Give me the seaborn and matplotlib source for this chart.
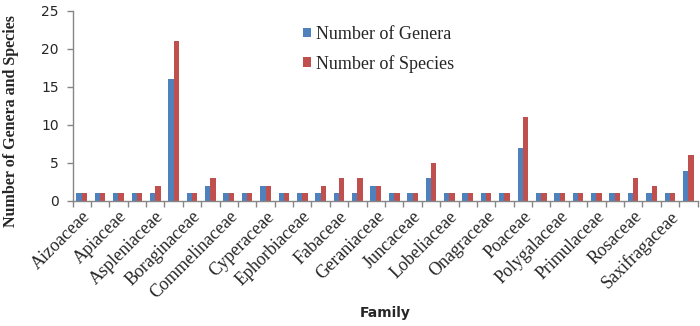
import matplotlib
matplotlib.use("Agg")
import matplotlib.pyplot as plt
import seaborn as sns
import pandas as pd
from matplotlib.patches import Patch

families = ["Aizoaceae", "Amaranthaceae", "Apiaceae", "Apocynaceae", "Aspleniaceae",
            "Asteraceae", "Boraginaceae", "Brassicaceae", "Commelinaceae", "Crassulaceae",
            "Cyperaceae", "Dipsacaceae", "Ephorbiaceae", "Ericaceae", "Fabaceae",
            "Gentianaceae", "Geraniaceae", "Hypericaceae", "Juncaceae", "Lamiaceae",
            "Lobeliaceae", "Malvaceae", "Onagraceae", "Plantaginaceae", "Poaceae",
            "Podocarpaceae", "Polygalaceae", "Polygonaceae", "Primulaceae", "Ranunculaceae",
            "Rosaceae", "Rubiaceae", "Saxifragaceae", "Scrophulariaceae"]
genera = [1, 1, 1, 1, 1, 16, 1, 2, 1, 1, 2, 1, 1, 1, 1, 1, 2, 1, 1, 3,
          1, 1, 1, 1, 7, 1, 1, 1, 1, 1, 1, 1, 1, 4]
species = [1, 1, 1, 1, 2, 21, 1, 3, 1, 1, 2, 1, 1, 2, 3, 3, 2, 1, 1, 5,
           1, 1, 1, 1, 11, 1, 1, 1, 1, 1, 3, 2, 1, 6]
series_names = ["Number of Genera", "Number of Species"]
colors = ["#4F81BD", "#C0504D"]

df = pd.DataFrame({
    "Family": families * 2,
    "Count": genera + species,
    "Series": [series_names[0]] * len(families) + [series_names[1]] * len(families),
})

sns.set_style("white")
fig = plt.figure(figsize=(7, 3.26), dpi=100)
ax = fig.add_axes([72.5 / 700, 1 - 201 / 326, 625 / 700, 190 / 326])

sns.barplot(data=df, x="Family", y="Count", hue="Series", order=families,
            hue_order=series_names, palette=colors, width=0.58, gap=0,
            saturation=1, ax=ax, legend=False, linewidth=0, edgecolor="none")

ax.set_xlim(-0.5, len(families) - 0.5)
ax.set_ylim(0, 25)
ax.set_yticks([0, 5, 10, 15, 20, 25])
for sp in ["top", "right"]:
    ax.spines[sp].set_visible(False)
for sp in ["left", "bottom"]:
    ax.spines[sp].set_color("#868686")
    ax.spines[sp].set_linewidth(1.0)

# x ticks: labels on every other category, tick marks at boundaries
ax.set_xticks(range(len(families)))
ax.set_xticklabels([f if i % 2 == 0 else "" for i, f in enumerate(families)],
                   rotation=45, ha="right", rotation_mode="anchor", va="top",
                   family="Liberation Serif", fontsize=13)
ax.tick_params(axis="x", which="major", length=0, pad=5)
ax.set_xticks([i - 0.5 for i in range(len(families) + 1)], minor=True)
ax.tick_params(axis="x", which="minor", length=4, color="#868686", width=1,
               direction="out", bottom=True)
ax.tick_params(axis="y", length=4, color="#868686", width=1, direction="out",
               left=True, labelsize=10, pad=6)
for t in ax.get_yticklabels():
    t.set_family("DejaVu Sans")

ax.set_xlabel("Family", fontsize=10, fontweight="bold", family="DejaVu Sans")
ax.xaxis.set_label_coords(0.5, -(306 - 201) / 190)
ax.set_ylabel("Number of Genera and Species", fontsize=11.5, fontweight="bold",
              family="Liberation Serif")
ax.yaxis.set_label_coords((19 - 72.5) / 625, (201 - 121) / 190)

handles = [Patch(facecolor=c, edgecolor="none") for c in colors]
ax.legend(handles, series_names, loc="upper left",
          bbox_to_anchor=(303 / 700, 1 - 26 / 326), bbox_transform=fig.transFigure,
          frameon=False, prop={"family": "Liberation Serif", "size": 13},
          handlelength=0.45, handleheight=0.45, handletextpad=0.25,
          labelspacing=0.65, borderpad=0, borderaxespad=0)

fig.savefig("out.png", dpi=100)
